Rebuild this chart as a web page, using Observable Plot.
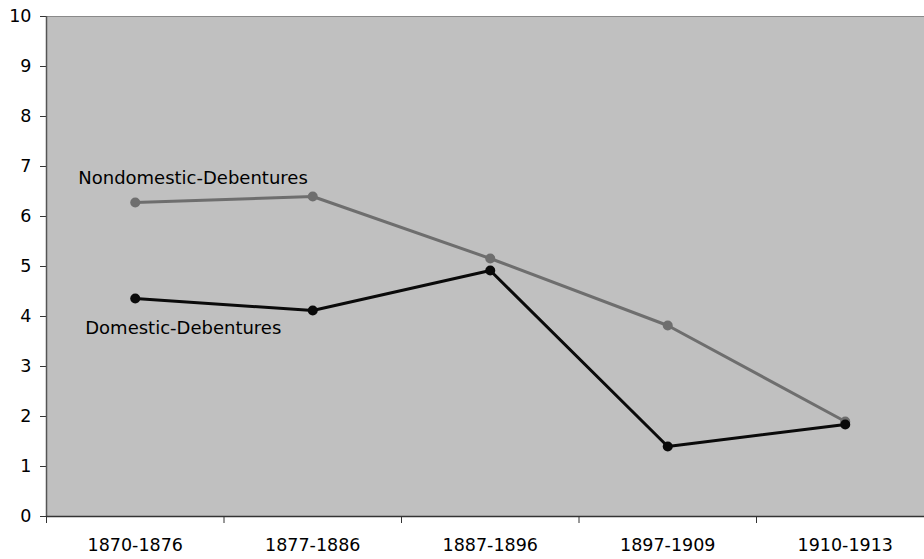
<!DOCTYPE html>
<html>
<head>
<meta charset="utf-8">
<script src="https://cdn.jsdelivr.net/npm/d3@7"></script>
<script src="https://cdn.jsdelivr.net/npm/@observablehq/plot@0.6"></script>
<style>
  html, body { margin: 0; padding: 0; background: #ffffff; overflow: hidden; }
  #chart { width: 924px; height: 559px; }
</style>
</head>
<body>
<div id="chart"></div>
<script>
const periods = ["1870-1876", "1877-1886", "1887-1896", "1897-1909", "1910-1913"];
const nondomestic = [6.28, 6.40, 5.16, 3.82, 1.90];
const domestic = [4.36, 4.12, 4.92, 1.40, 1.84];
const seriesNames = ["Nondomestic-Debentures", "Domestic-Debentures"];
const yTicks = [0, 1, 2, 3, 4, 5, 6, 7, 8, 9, 10];

const rows = [];
periods.forEach((p, i) => {
  rows.push({series: seriesNames[0], i, period: p, value: nondomestic[i]});
  rows.push({series: seriesNames[1], i, period: p, value: domestic[i]});
});
const nd = rows.filter(d => d.series === seriesNames[0]);
const dm = rows.filter(d => d.series === seriesNames[1]);
const centers = periods.map((p, i) => i + 0.5);
const bounds = periods.map((p, i) => i);

const font = "DejaVu Sans, Verdana, sans-serif";

const chart = Plot.plot({
  width: 924,
  height: 559,
  marginTop: 16,
  marginBottom: 43,
  marginLeft: 46,
  marginRight: 0,
  style: {fontFamily: font, fontSize: "17.5px", background: "#ffffff", color: "#000"},
  x: {type: "linear", domain: [0, periods.length], range: [46, 933.5]},
  y: {domain: [0, 10], range: [516, 16]},
  marks: [
    Plot.frame({fill: "#c0c0c0", stroke: null}),
    Plot.ruleY([10], {stroke: "#8a8a8a", strokeWidth: 1}),
    Plot.axisY({ticks: yTicks, tickSize: 6, tickPadding: 9, tickFormat: d => String(d), label: null, stroke: "#333", fontSize: 17.5}),
    Plot.axisX({ticks: bounds, tickSize: 7, tickFormat: () => "", label: null, stroke: "#333"}),
    Plot.axisX({ticks: centers, tickSize: 0, tickPadding: 22, tickFormat: d => periods[Math.round(d - 0.5)], label: null, fontSize: 17.5}),
    Plot.ruleX([0], {stroke: "#555", strokeWidth: 1.5}),
    Plot.ruleY([0], {stroke: "#333", strokeWidth: 1.5}),
    Plot.line(nd, {x: d => d.i + 0.5, y: "value", stroke: "#6e6e6e", strokeWidth: 3}),
    Plot.line(dm, {x: d => d.i + 0.5, y: "value", stroke: "#0a0a0a", strokeWidth: 3}),
    Plot.dot(nd, {x: d => d.i + 0.5, y: "value", r: 5, fill: "#6e6e6e", stroke: null}),
    Plot.dot(dm, {x: d => d.i + 0.5, y: "value", r: 5, fill: "#0a0a0a", stroke: null}),
    Plot.text(nd.slice(0, 1), {x: d => d.i + 0.5, y: "value", text: "series", textAnchor: "start", dx: -57, dy: -24, fontSize: 18, fill: "#000"}),
    Plot.text(dm.slice(0, 1), {x: d => d.i + 0.5, y: "value", text: "series", textAnchor: "start", dx: -50, dy: 30, fontSize: 18, fill: "#000"})
  ]
});
document.getElementById("chart").appendChild(chart);
</script>
</body>
</html>
